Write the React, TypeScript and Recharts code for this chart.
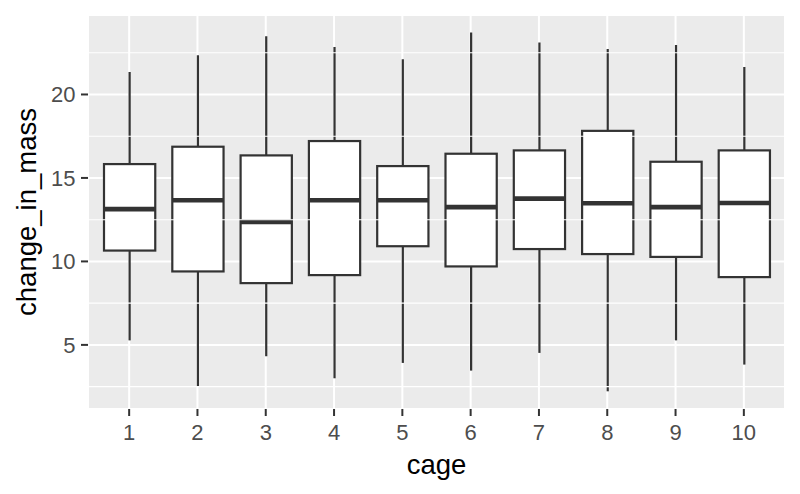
import React from 'react';
import { ComposedChart, Bar, XAxis, YAxis, CartesianGrid, ReferenceLine, Label } from 'recharts';

const cages = ['1', '2', '3', '4', '5', '6', '7', '8', '9', '10'];
const whiskerLow = [5.27, 2.52, 4.32, 3.0, 3.92, 3.46, 4.52, 2.22, 5.27, 3.82];
const q1 = [10.65, 9.4, 8.7, 9.18, 10.91, 9.7, 10.74, 10.44, 10.27, 9.06];
const median = [13.13, 13.66, 12.37, 13.66, 13.66, 13.25, 13.76, 13.48, 13.25, 13.5];
const q3 = [15.83, 16.87, 16.35, 17.21, 15.71, 16.45, 16.65, 17.82, 15.97, 16.65];
const whiskerHigh = [21.35, 22.35, 23.48, 22.85, 22.11, 23.71, 23.11, 22.73, 22.96, 21.65];

const yTicks = [5, 10, 15, 20];
const yMinorTicks = [2.5, 7.5, 12.5, 17.5, 22.5];
const yDomain = [1.16, 24.76];

const data = cages.map((c, i) => ({
  cage: c,
  min: whiskerLow[i],
  q1: q1[i],
  median: median[i],
  q3: q3[i],
  max: whiskerHigh[i],
  range: [whiskerLow[i], whiskerHigh[i]],
}));

const FONT = '"Liberation Sans", Arial, Helvetica, sans-serif';
const INK = '#333333';

const BoxShape = (props: any) => {
  const { x, y, width, height, payload } = props;
  if (x == null || y == null || !payload) return null;
  const top = Math.min(y, y + height);
  const bottom = Math.max(y, y + height);
  const { min, max } = payload;
  const toPx = (v: number) => bottom - ((v - min) / (max - min)) * (bottom - top);
  const cx = x + width / 2;
  const pQ3 = toPx(payload.q3);
  const pQ1 = toPx(payload.q1);
  const pMed = toPx(payload.median);
  return (
    <g>
      <line x1={cx} x2={cx} y1={toPx(max)} y2={pQ3} stroke={INK} strokeWidth={2.2} />
      <line x1={cx} x2={cx} y1={pQ1} y2={toPx(min)} stroke={INK} strokeWidth={2.2} />
      <rect x={x} y={pQ3} width={width} height={pQ1 - pQ3} fill="#FFFFFF" stroke={INK} strokeWidth={2.2} />
      <line x1={x} x2={x + width} y1={pMed} y2={pMed} stroke={INK} strokeWidth={4.6} />
    </g>
  );
};

const XTitle = (props: any) => {
  const vb = props.viewBox || {};
  return (
    <text x={vb.x + vb.width / 2} y={vb.y + 65} textAnchor="middle" fill="#000000" fontSize={27.5} fontFamily={FONT}>
      cage
    </text>
  );
};

const YTitle = (props: any) => {
  const vb = props.viewBox || {};
  const cx = 36;
  const cy = vb.y + vb.height / 2;
  return (
    <text x={cx} y={cy} transform={`rotate(-90, ${cx}, ${cy})`} textAnchor="middle" fill="#000000" fontSize={27.5} fontFamily={FONT}>
      change_in_mass
    </text>
  );
};

export default function App() {
  return (
    <div style={{ position: 'absolute', left: 0, top: 0, width: 800, height: 494, background: '#FFFFFF' }}>
      <ComposedChart width={800} height={494} data={data} margin={{ top: 15, right: 15, bottom: 0, left: 0 }}>
        <CartesianGrid stroke="#FFFFFF" strokeWidth={2} fill="#EBEBEB" fillOpacity={1} />
        {yMinorTicks.map((v) => (
          <ReferenceLine key={v} y={v} stroke="#FFFFFF" strokeWidth={1.1} />
        ))}
        <XAxis
          dataKey="cage"
          type="category"
          height={85}
          padding={{ left: 7, right: 7 }}
          axisLine={false}
          tickLine={{ stroke: INK, strokeWidth: 2 }}
          tickSize={7}
          tickMargin={8}
          tick={{ fill: '#4D4D4D', fontSize: 22, fontFamily: FONT }}
          interval={0}
        >
          <Label content={<XTitle />} />
        </XAxis>
        <YAxis
          type="number"
          width={88}
          domain={yDomain}
          ticks={yTicks}
          allowDataOverflow
          axisLine={false}
          tickLine={{ stroke: INK, strokeWidth: 2 }}
          tickSize={7}
          tickMargin={5.5}
          tick={{ fill: '#4D4D4D', fontSize: 22, fontFamily: FONT }}
        >
          <Label content={<YTitle />} />
        </YAxis>
        <Bar dataKey="range" barSize={51.25} shape={<BoxShape />} isAnimationActive={false} />
      </ComposedChart>
    </div>
  );
}
